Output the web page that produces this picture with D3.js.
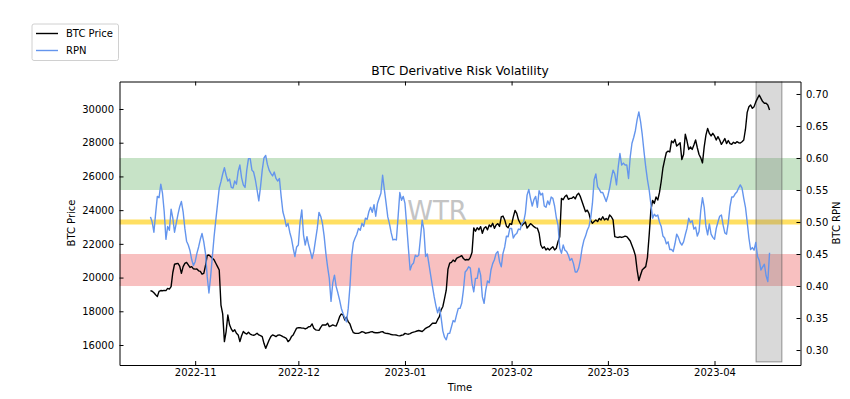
<!DOCTYPE html>
<html>
<head>
<meta charset="utf-8">
<script src="https://cdn.jsdelivr.net/npm/d3@7"></script>
<style>
  html, body { margin: 0; padding: 0; background: #fff; }
  svg { display: block; font-family: "DejaVu Sans", sans-serif; }
</style>
</head>
<body>
<svg id="chart" width="850" height="399"></svg>
<script>
// ---------------- DATA ----------------
const seriesStart = "2022-10-19";   // first sample
const stepHours = 12;               // one sample every 12 hours
// BTC price samples
const btcPrice = [
  19225,19190,19100,18980,18880,19180,19230,19220,19240,19225,
  19360,19320,19460,20300,20790,20820,20840,20680,20250,20650,
  20840,20900,20750,20600,20650,20520,20500,20510,20400,20370,
  20200,20250,20700,21310,21340,21250,21150,21050,20850,20650,
  20450,18370,17850,16200,16800,17780,17200,16950,16800,16900,
  16700,16600,16200,16550,16800,16700,16650,16750,16650,16600,
  16580,16620,16700,16600,16560,16500,16100,15800,16050,16300,
  16500,16600,16550,16500,16580,16600,16560,16500,16450,16400,
  16200,16300,16500,16600,16800,17000,17020,17030,17000,17000,
  16950,17000,17080,17100,17250,17000,16900,16880,16870,17050,
  17190,17190,17190,17290,17090,17140,17190,17150,17130,17380,
  17680,17840,17780,17480,17650,17380,17250,16950,16730,16700,
  16690,16690,16730,16790,16760,16700,16720,16740,16780,16790,
  16740,16730,16730,16740,16780,16790,16720,16690,16680,16660,
  16620,16600,16600,16590,16560,16540,16580,16600,16690,16660,
  16640,16680,16730,16760,16790,16830,16860,16830,16800,16890,
  16990,17050,17090,17190,17290,17300,17290,17500,17680,18080,
  18270,18750,19250,20500,20850,20900,21040,20950,21140,21200,
  21240,21300,21130,21040,21070,21050,21200,21500,22950,22750,
  22950,22840,23020,22630,22920,23020,22830,23120,23020,23220,
  22920,23120,23200,23030,23600,23650,23420,23050,22960,23200,
  23150,23600,23980,23810,23420,23220,23080,23200,23300,22940,
  23060,23200,23120,23020,22950,22930,22630,21930,21740,21830,
  21640,21740,21640,21740,21830,21640,21740,22130,22420,24700,
  24620,24810,24890,24640,24700,24700,24800,24670,24900,25000,
  24800,24500,24200,23910,24000,23800,23400,23220,23320,23420,
  23320,23510,23420,23610,23420,23510,23420,23710,23610,23420,
  22430,22400,22380,22420,22380,22420,22460,22430,22300,22170,
  21900,21640,21300,20450,19820,20150,20460,20560,20650,21200,
  22520,24000,24580,24400,24780,24600,25050,25700,26500,26980,
  27420,27500,27450,28100,28000,28200,27800,27900,28000,27000,
  27300,28500,28100,27600,27750,27600,27860,28160,27700,27300,
  27100,26800,27750,28450,28850,28550,28400,28560,28400,28160,
  28360,28160,27900,28060,28250,27950,28130,27950,27900,28030,
  27960,28060,28000,27980,28060,28160,28800,29800,30130,30240,
  30040,30140,30420,30630,30830,30630,30440,30340,30340,30240,
  29940
];
// RPN samples
const rpnValues = [
  0.508,0.500,0.484,0.513,0.540,0.538,0.559,0.545,0.516,0.473,
  0.493,0.487,0.520,0.506,0.484,0.498,0.512,0.524,0.532,0.516,
  0.490,0.470,0.464,0.455,0.441,0.432,0.438,0.451,0.461,0.473,
  0.482,0.469,0.451,0.415,0.389,0.415,0.446,0.477,0.503,0.528,
  0.553,0.563,0.575,0.585,0.573,0.564,0.567,0.554,0.553,0.564,
  0.559,0.579,0.589,0.569,0.558,0.554,0.581,0.599,0.599,0.581,
  0.578,0.566,0.550,0.533,0.555,0.581,0.600,0.604,0.590,0.581,
  0.576,0.572,0.578,0.568,0.564,0.568,0.540,0.516,0.506,0.493,
  0.498,0.484,0.474,0.459,0.446,0.461,0.464,0.500,0.519,0.480,
  0.464,0.477,0.464,0.454,0.443,0.454,0.472,0.490,0.515,0.509,
  0.498,0.478,0.451,0.430,0.412,0.376,0.405,0.417,0.399,0.389,
  0.378,0.365,0.357,0.350,0.344,0.365,0.399,0.446,0.468,0.475,
  0.481,0.490,0.487,0.498,0.493,0.506,0.504,0.516,0.523,0.515,
  0.527,0.509,0.529,0.537,0.545,0.573,0.551,0.530,0.508,0.497,
  0.483,0.472,0.473,0.472,0.508,0.546,0.534,0.540,0.529,0.495,
  0.459,0.425,0.433,0.436,0.448,0.446,0.448,0.475,0.503,0.488,
  0.446,0.450,0.433,0.416,0.399,0.383,0.369,0.358,0.367,0.351,
  0.330,0.320,0.316,0.326,0.326,0.336,0.346,0.344,0.355,0.365,
  0.365,0.373,0.394,0.422,0.425,0.430,0.428,0.404,0.391,0.412,
  0.412,0.428,0.417,0.383,0.373,0.394,0.408,0.405,0.425,0.435,
  0.441,0.451,0.454,0.438,0.430,0.451,0.461,0.478,0.477,0.490,
  0.490,0.475,0.480,0.482,0.489,0.488,0.498,0.500,0.514,0.542,
  0.551,0.537,0.525,0.535,0.540,0.523,0.549,0.542,0.545,0.525,
  0.523,0.533,0.527,0.539,0.537,0.525,0.507,0.495,0.459,0.451,
  0.464,0.456,0.454,0.448,0.440,0.443,0.435,0.422,0.422,0.428,
  0.441,0.459,0.471,0.478,0.487,0.493,0.506,0.529,0.566,0.575,
  0.555,0.551,0.546,0.546,0.539,0.532,0.541,0.553,0.568,0.581,
  0.575,0.558,0.586,0.607,0.589,0.592,0.589,0.589,0.568,0.602,
  0.623,0.632,0.643,0.660,0.672,0.657,0.636,0.610,0.586,0.566,
  0.550,0.528,0.506,0.512,0.509,0.511,0.500,0.493,0.478,0.475,
  0.466,0.469,0.457,0.457,0.454,0.466,0.481,0.476,0.468,0.464,
  0.469,0.480,0.490,0.506,0.499,0.502,0.489,0.492,0.478,0.485,
  0.518,0.538,0.523,0.493,0.480,0.497,0.481,0.476,0.473,0.490,
  0.500,0.509,0.511,0.495,0.483,0.481,0.499,0.524,0.539,0.539,
  0.544,0.547,0.553,0.558,0.553,0.537,0.523,0.500,0.475,0.457,
  0.460,0.456,0.468,0.446,0.440,0.425,0.430,0.434,0.416,0.407,
  0.452
];
// risk zones on the RPN axis
const highZone = [0.55, 0.60];
const midLine = 0.50;
const lowZone = [0.40, 0.45];
// highlighted recent window
const recentWindow = ["2023-04-13T02:00", "2023-04-20T14:00"];
const recentWindowPriceFloor = 15000;
// axis ticks
const btcTicks = [16000, 18000, 20000, 22000, 24000, 26000, 28000, 30000];
const rpnTicks = [0.30, 0.35, 0.40, 0.45, 0.50, 0.55, 0.60, 0.65, 0.70];
const monthTicks = ["2022-11-01", "2022-12-01", "2023-01-01", "2023-02-01", "2023-03-01", "2023-04-01"];
const btcDomain = [14814, 31631];
const rpnDomain = [0.2766, 0.7195];
const titleText = "BTC Derivative Risk Volatility";
const legendLabels = ["BTC Price", "RPN"];

// ---------------- CHART ----------------
const svg = d3.select("#chart");
const M = { left: 119.5, right: 800.5, top: 81.5, bottom: 365 };
const W = M.right - M.left, H = M.bottom - M.top;
const parse = d3.utcParse("%Y-%m-%d");
const parseT = d3.utcParse("%Y-%m-%dT%H:%M");
const t0 = parse(seriesStart);
const btc = btcPrice.map((v, i) => ({ d: d3.utcHour.offset(t0, i * stepHours), v }));
const rpn = rpnValues.map((v, i) => ({ d: d3.utcHour.offset(t0, i * stepHours), v }));

const ext = d3.extent(btc, d => d.d);
const span = ext[1] - ext[0];
const x = d3.scaleUtc()
  .domain([new Date(+ext[0] - 0.05 * span), new Date(+ext[1] + 0.05 * span)])
  .range([0, W]);
const yL = d3.scaleLinear().domain(btcDomain).range([H, 0]);
const yR = d3.scaleLinear().domain(rpnDomain).range([H, 0]);

const g = svg.append("g").attr("transform", `translate(${M.left},${M.top})`);
g.append("clipPath").attr("id", "clip").append("rect").attr("width", W).attr("height", H);
const plot = g.append("g").attr("clip-path", "url(#clip)");

// zones
plot.append("rect").attr("x", 0).attr("width", W)
  .attr("y", yR(highZone[1])).attr("height", yR(highZone[0]) - yR(highZone[1]))
  .attr("fill", "green").attr("fill-opacity", 0.22);
plot.append("rect").attr("x", 0).attr("width", W)
  .attr("y", yR(lowZone[1])).attr("height", yR(lowZone[0]) - yR(lowZone[1]))
  .attr("fill", "#e83030").attr("fill-opacity", 0.3);
plot.append("line").attr("x1", 0).attr("x2", W)
  .attr("y1", yR(midLine)).attr("y2", yR(midLine))
  .attr("stroke", "#ffd21f").attr("stroke-opacity", 0.7).attr("stroke-width", 5);

// watermark
plot.append("text").attr("x", 437 - M.left).attr("y", 220 - M.top)
  .attr("text-anchor", "middle").attr("font-size", 26)
  .attr("fill", "#c4c4c4").text("WTR");

// recent window
const rw0 = x(parseT(recentWindow[0])), rw1 = x(parseT(recentWindow[1]));
plot.append("rect").attr("x", rw0).attr("width", rw1 - rw0)
  .attr("y", -5).attr("height", yL(recentWindowPriceFloor) + 5)
  .attr("fill", "#808080").attr("fill-opacity", 0.3)
  .attr("stroke", "#555").attr("stroke-opacity", 0.6).attr("stroke-width", 1);

// lines
plot.append("path").datum(btc)
  .attr("d", d3.line().x(d => x(d.d)).y(d => yL(d.v)))
  .attr("fill", "none").attr("stroke", "#000").attr("stroke-width", 1.4)
  .attr("stroke-linejoin", "round");
plot.append("path").datum(rpn)
  .attr("d", d3.line().x(d => x(d.d)).y(d => yR(d.v)))
  .attr("fill", "none").attr("stroke", "#6495ed").attr("stroke-width", 1.4)
  .attr("stroke-linejoin", "round");

// axes
const mt = monthTicks.map(parse);
const fmt = d3.utcFormat("%Y-%m");
const axB = g.append("g").attr("transform", `translate(0,${H})`)
  .call(d3.axisBottom(x).tickValues(mt).tickFormat(fmt).tickSizeInner(-4).tickSizeOuter(0).tickPadding(4));
const axT = g.append("g")
  .call(d3.axisTop(x).tickValues(mt).tickFormat("").tickSizeInner(-4).tickSizeOuter(0));
const axL = g.append("g")
  .call(d3.axisLeft(yL).tickValues(btcTicks).tickFormat(d3.format("d")).tickSizeInner(-4).tickSizeOuter(0).tickPadding(5.5));
const axR = g.append("g").attr("transform", `translate(${W},0)`)
  .call(d3.axisRight(yR).tickValues(rpnTicks).tickFormat(d3.format(".2f")).tickSizeInner(-4).tickSizeOuter(0).tickPadding(5.5));
[axB, axT, axL, axR].forEach(a => {
  a.selectAll("text").attr("font-size", 10).attr("fill", "#000")
    .attr("font-family", "DejaVu Sans, sans-serif");
  a.selectAll("path.domain").attr("stroke", "#000").attr("stroke-width", 1);
  a.selectAll(".tick line").attr("stroke", "#000");
});

// labels
svg.append("text").attr("x", (M.left + M.right) / 2).attr("y", 75)
  .attr("text-anchor", "middle").attr("font-size", 12.3).text(titleText);
svg.append("text").attr("x", 460).attr("y", 391)
  .attr("text-anchor", "middle").attr("font-size", 10).text("Time");
svg.append("text").attr("transform", "translate(75,223) rotate(-90)")
  .attr("text-anchor", "middle").attr("font-size", 10).text("BTC Price");
svg.append("text").attr("transform", "translate(840,223) rotate(-90)")
  .attr("text-anchor", "middle").attr("font-size", 10).text("BTC RPN");

// legend
const lg = svg.append("g").attr("transform", "translate(32,24)");
lg.append("rect").attr("x", 0).attr("y", 0).attr("width", 86.5).attr("height", 36.5)
  .attr("rx", 2).attr("fill", "#fff").attr("fill-opacity", 0.8)
  .attr("stroke", "#d0d0d0").attr("stroke-width", 1);
const legColors = ["#000", "#6495ed"];
legendLabels.forEach((lab, i) => {
  const yy = 9.5 + i * 17;
  lg.append("line").attr("x1", 4).attr("x2", 26).attr("y1", yy).attr("y2", yy)
    .attr("stroke", legColors[i]).attr("stroke-width", 1.4);
  lg.append("text").attr("x", 34).attr("y", yy + 3.6).attr("font-size", 10).text(lab);
});
</script>
</body>
</html>
